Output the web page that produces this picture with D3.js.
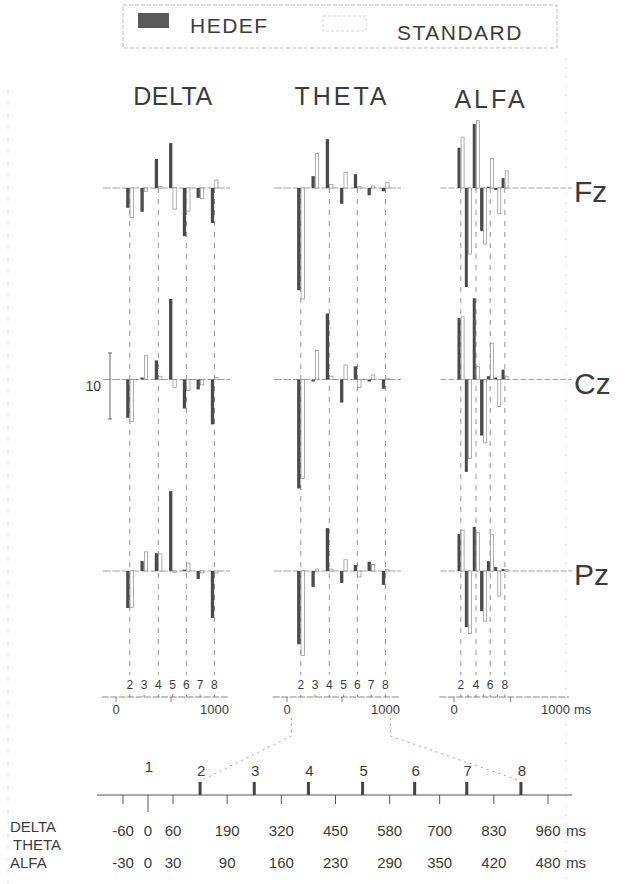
<!DOCTYPE html>
<html>
<head>
<meta charset="utf-8">
<script src="https://cdn.jsdelivr.net/npm/d3@7"></script>
<style>
  body { margin: 0; background: #fff; }
  svg { display: block; }
  text { font-family: "Liberation Sans", Arial, sans-serif; fill: #3c3c3c; }
</style>
</head>
<body>
<div id="chart"></div>
<script>
// ---- data ----
const bands = ['DELTA', 'THETA', 'ALFA'];
const sites = ['Fz', 'Cz', 'Pz'];
const bins = [2, 3, 4, 5, 6, 7, 8];
// bin centres (ms)
const binMsDT = [125, 255, 385, 515, 640, 765, 895];
const binMsA = [60, 125, 195, 260, 320, 385, 450];

// amplitudes per bin 2..8 (HEDEF = target, STANDARD)
const deltaFzH = [-3.0, -3.6, 4.4, 6.8, -7.3, -1.5, -5.3];
const deltaFzS = [-4.5, -0.5, 0.2, -3.2, -3.5, -1.6, 1.2];
const deltaCzH = [-5.8, 0.3, 2.9, 12.2, -4.4, -1.5, -6.8];
const deltaCzS = [-6.4, 3.6, 0.5, -1.2, -1.7, -0.8, 0.3];
const deltaPzH = [-5.6, 1.5, 2.7, 12.1, 0.2, -1.2, -7.1];
const deltaPzS = [-5.5, 2.9, 2.6, -0.2, 1.2, -0.3, -0.3];

const thetaFzH = [-15.5, 1.8, 7.4, -2.4, 2.1, -1.1, -0.5];
const thetaFzS = [-16.8, 5.2, 0.5, 2.4, 0.2, 0.3, 0.8];
const thetaCzH = [-16.5, -0.3, 10.0, -3.5, 2.0, -0.3, -1.4];
const thetaCzS = [-15.0, 4.4, 0.5, 2.2, -1.2, 0.7, 0.2];
const thetaPzH = [-11.1, -2.4, 6.5, -1.8, 0.9, 1.4, -2.1];
const thetaPzS = [-12.8, 0.3, 0.3, 1.7, -0.9, 1.0, 0.2];

const alfaFzH = [6.1, -15.0, 9.7, -6.5, 0.2, -0.3, 1.5];
const alfaFzS = [7.7, -10.0, 10.2, -8.5, 4.5, -3.9, 2.6];
const alfaCzH = [9.3, -14.0, 12.3, -8.5, 0.5, 0.3, 1.5];
const alfaCzS = [9.5, -12.0, 2.0, -9.6, 5.5, -4.1, 0.5];
const alfaPzH = [5.6, -8.5, 6.7, -6.1, 1.5, 0.6, 0.3];
const alfaPzS = [6.2, -9.5, 5.8, -7.6, 5.5, -3.8, 0.2];

// expanded time scale at the bottom
const scaleBins = [1, 2, 3, 4, 5, 6, 7, 8];
const scaleBinMs = [0, 125, 255, 385, 515, 640, 765, 895];
const edgesDT = [-60, 0, 60, 190, 320, 450, 580, 700, 830, 960];
const edgesA = [-30, 0, 30, 90, 160, 230, 290, 350, 420, 480];

const table = {
  DELTA: { Fz: [deltaFzH, deltaFzS], Cz: [deltaCzH, deltaCzS], Pz: [deltaPzH, deltaPzS] },
  THETA: { Fz: [thetaFzH, thetaFzS], Cz: [thetaCzH, thetaCzS], Pz: [thetaPzH, thetaPzS] },
  ALFA:  { Fz: [alfaFzH, alfaFzS],   Cz: [alfaCzH, alfaCzS],   Pz: [alfaPzH, alfaPzS] }
};

// ---- layout ----
const W = 631, H = 884;
const svg = d3.select('#chart').append('svg').attr('width', W).attr('height', H);

const colX = {
  DELTA: d3.scaleLinear().domain([0, 1000]).range([116, 226]),
  THETA: d3.scaleLinear().domain([0, 1000]).range([287, 397]),
  ALFA:  d3.scaleLinear().domain([0, 1000]).range([454, 567])
};
const binMs = { DELTA: binMsDT, THETA: binMsDT, ALFA: binMsA };
const rowY = d3.scalePoint().domain(sites).range([188, 571]);
const amp = d3.scaleLinear().domain([0, 10]).range([0, -66]);
const axisY = 697;

// page edge marks from the scan
svg.append('line').attr('x1', 566).attr('x2', 566).attr('y1', 58).attr('y2', H)
  .attr('stroke', '#ccc').attr('stroke-dasharray', '2,7').attr('stroke-width', 0.8);
svg.append('line').attr('x1', 8).attr('x2', 8).attr('y1', 90).attr('y2', H)
  .attr('stroke', '#ccc').attr('stroke-dasharray', '3,9').attr('stroke-width', 0.8);

// legend
const leg = svg.append('g');
leg.append('rect').attr('x', 123).attr('y', 5).attr('width', 434).attr('height', 43)
  .attr('fill', 'none').attr('stroke', '#aaa').attr('stroke-width', 0.8).attr('stroke-dasharray', '4,2');
leg.append('rect').attr('x', 138).attr('y', 13).attr('width', 31).attr('height', 15).attr('fill', '#5a5a5a');
leg.append('text').attr('x', 190).attr('y', 33).attr('font-size', 21).attr('letter-spacing', 1.5).text('HEDEF');
leg.append('rect').attr('x', 323).attr('y', 16).attr('width', 43).attr('height', 15)
  .attr('fill', 'none').attr('stroke', '#c8c8c8').attr('stroke-width', 0.8).attr('stroke-dasharray', '3,2');
leg.append('text').attr('x', 397).attr('y', 40).attr('font-size', 21).attr('letter-spacing', 1.5).text('STANDARD');

// column titles
const titleX = { DELTA: 173, THETA: 342, ALFA: 491 };
const titleY = { DELTA: 105, THETA: 105, ALFA: 108 };
bands.forEach(b => {
  svg.append('text').attr('x', titleX[b]).attr('y', titleY[b]).attr('text-anchor', 'middle')
    .attr('font-size', 25).attr('letter-spacing', b === 'DELTA' ? 0.5 : 3).text(b);
});

// row labels
sites.forEach(s => {
  svg.append('text').attr('x', 574).attr('y', rowY(s) + 14).attr('font-size', 30).text(s);
});

// amplitude scale bar
const sb = svg.append('g').attr('stroke', '#555').attr('stroke-width', 0.9);
sb.append('line').attr('x1', 110).attr('x2', 110).attr('y1', 353).attr('y2', 353 - amp(10));
sb.append('line').attr('x1', 108).attr('x2', 112).attr('y1', 353).attr('y2', 353);
sb.append('line').attr('x1', 108).attr('x2', 112).attr('y1', 353 - amp(10)).attr('y2', 353 - amp(10));
svg.append('text').attr('x', 101).attr('y', 391).attr('text-anchor', 'end').attr('font-size', 14).text('10');

// panels
bands.forEach(b => {
  const x = colX[b];
  const ms = binMs[b];
  const g = svg.append('g');
  const bw = b === 'ALFA' ? 3 : 3.3;

  // dashed guide lines at even bins
  bins.forEach((k, i) => {
    if (k % 2 !== 0) return;
    g.append('line').attr('x1', x(ms[i])).attr('x2', x(ms[i]))
      .attr('y1', rowY('Fz')).attr('y2', axisY - 22)
      .attr('stroke', '#777').attr('stroke-width', 0.8).attr('stroke-dasharray', '5,6');
  });

  sites.forEach(s => {
    const base = rowY(s);
    const [hed, std] = table[b][s];
    const xEnd = b === 'ALFA' ? 572 : x(1000) + 4;
    g.append('line').attr('x1', x(-120)).attr('x2', xEnd).attr('y1', base).attr('y2', base)
      .attr('stroke', '#888').attr('stroke-width', 0.8).attr('stroke-dasharray', b === 'ALFA' ? '6,2' : '8,1.5');

    g.selectAll(null).data(std).enter().append('rect')
      .attr('x', (d, i) => x(ms[i]) + 0.3)
      .attr('y', d => base + Math.min(amp(d), 0))
      .attr('width', bw)
      .attr('height', d => Math.abs(amp(d)))
      .attr('fill', '#fff').attr('stroke', '#8a8a8a').attr('stroke-width', 0.7);

    g.selectAll(null).data(hed).enter().append('rect')
      .attr('x', (d, i) => x(ms[i]) - bw - 0.3)
      .attr('y', d => base + Math.min(amp(d), 0))
      .attr('width', bw)
      .attr('height', d => Math.abs(amp(d)))
      .attr('fill', '#4a4a4a');
  });

  // time axis under each column
  const ax = svg.append('g');
  ax.append('line').attr('x1', x(-130)).attr('x2', x(1000) + 2).attr('y1', axisY).attr('y2', axisY)
    .attr('stroke', '#666').attr('stroke-width', 0.8).attr('stroke-dasharray', '7,1.5');
  ax.selectAll(null).data(ms).enter().append('line')
    .attr('x1', d => x(d)).attr('x2', d => x(d)).attr('y1', axisY - 2.5).attr('y2', axisY)
    .attr('stroke', '#666').attr('stroke-width', 0.8);
  [0, 500].forEach(t => {
    ax.append('line').attr('x1', x(t)).attr('x2', x(t)).attr('y1', axisY).attr('y2', axisY + 5)
      .attr('stroke', '#666').attr('stroke-width', 0.8);
  });
  ax.selectAll(null).data(bins.filter(k => b !== 'ALFA' || k % 2 === 0)).enter().append('text')
    .attr('x', k => x(ms[bins.indexOf(k)]))
    .attr('y', axisY - 8).attr('text-anchor', 'middle').attr('font-size', 12).attr('fill', '#666')
    .text(k => k);
  ax.append('text').attr('x', x(0)).attr('y', axisY + 17).attr('text-anchor', 'middle')
    .attr('font-size', 13).attr('fill', '#777').text('0');
  ax.append('text').attr('x', x(1000) + 3).attr('y', axisY + 17).attr('text-anchor', 'end')
    .attr('font-size', 13).attr('fill', '#777').text('1000');
  if (b === 'ALFA') {
    ax.append('text').attr('x', x(1000) + 7).attr('y', axisY + 17)
      .attr('font-size', 13).attr('fill', '#777').text('ms');
  }
});

// expanded scale at bottom
const bx = d3.scaleLinear().domain([-60, 960]).range([123, 548]);
const lineY = 795;

// connectors from THETA axis to expanded scale
const tx = colX.THETA;
const conn = svg.append('g').attr('fill', 'none').attr('stroke', '#888')
  .attr('stroke-width', 0.8).attr('stroke-dasharray', '2,4');
conn.append('path').attr('d', d3.line()([[tx(40), axisY + 21], [tx(40), 736], [bx(scaleBinMs[1]), lineY - 14]]));
conn.append('path').attr('d', d3.line()([[tx(940), axisY + 21], [tx(940), 736], [bx(scaleBinMs[7]), lineY - 14]]));

const bot = svg.append('g');
bot.append('line').attr('x1', 97).attr('x2', 572).attr('y1', lineY).attr('y2', lineY)
  .attr('stroke', '#555').attr('stroke-width', 1);
bot.selectAll(null).data(edgesDT).enter().append('line')
  .attr('x1', d => bx(d)).attr('x2', d => bx(d))
  .attr('y1', lineY).attr('y2', d => d === 0 ? lineY + 17 : lineY + 9)
  .attr('stroke', '#555').attr('stroke-width', 1);
bot.selectAll(null).data(scaleBinMs.slice(1)).enter().append('rect')
  .attr('x', d => bx(d) - 1.5).attr('y', lineY - 13).attr('width', 3).attr('height', 13)
  .attr('fill', '#444');
bot.selectAll(null).data(scaleBins).enter().append('text')
  .attr('x', (d, i) => bx(scaleBinMs[i]) + 1).attr('y', (d, i) => i === 0 ? 772 : 776)
  .attr('text-anchor', 'middle').attr('font-size', 15).text(d => d);

bot.selectAll(null).data(edgesDT).enter().append('text')
  .attr('x', d => bx(d)).attr('y', 836).attr('text-anchor', 'middle').attr('font-size', 15)
  .attr('fill', '#555').text(d => d);
bot.selectAll(null).data(edgesA).enter().append('text')
  .attr('x', (d, i) => bx(edgesDT[i])).attr('y', 868).attr('text-anchor', 'middle').attr('font-size', 15)
  .attr('fill', '#555').text(d => d);
bot.append('text').attr('x', bx(960) + 18).attr('y', 836).attr('font-size', 15).attr('fill', '#555').text('ms');
bot.append('text').attr('x', bx(960) + 18).attr('y', 868).attr('font-size', 15).attr('fill', '#555').text('ms');

bot.append('text').attr('x', 10).attr('y', 832).attr('font-size', 15).text('DELTA');
bot.append('text').attr('x', 13).attr('y', 850).attr('font-size', 15).text('THETA');
bot.append('text').attr('x', 10).attr('y', 868).attr('font-size', 15).text('ALFA');
</script>
</body>
</html>
